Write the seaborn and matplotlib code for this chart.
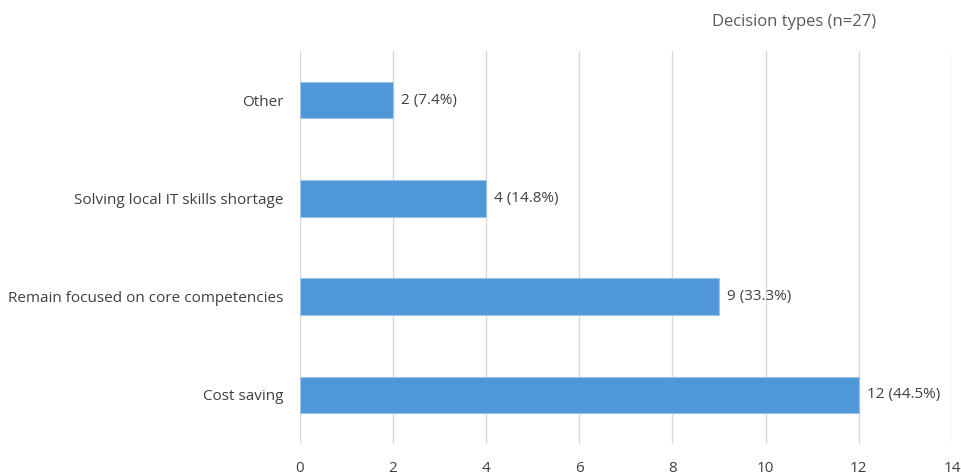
import matplotlib
matplotlib.use("Agg")
import matplotlib.pyplot as plt
import seaborn as sns
import pandas as pd

categories = ["Other", "Solving local IT skills shortage",
              "Remain focused on core competencies", "Cost saving"]
counts = [2, 4, 9, 12]
labels = ["2 (7.4%)", "4 (14.8%)", "9 (33.3%)", "12 (44.5%)"]
xticks = [0, 2, 4, 6, 8, 10, 12, 14]
title = "Decision types (n=27)"

sns.set_theme(style="white")
plt.rcParams['font.family'] = ['Open Sans', 'DejaVu Sans']

df = pd.DataFrame({"category": categories, "count": counts})

fig = plt.figure(figsize=(9.61, 4.76), dpi=100)
ax = fig.add_axes([0.312, 0.067, 0.6786, 0.826])
sns.barplot(data=df, y="category", x="count", color="#4F97D7", width=0.37,
            saturation=1, ax=ax, edgecolor="#9CC3E8", linewidth=0.8)
ax.set_xlim(0, 14)
ax.set_ylim(3.5, -0.5)
ax.set_xticks(xticks)
ax.set_xticklabels([str(t) for t in xticks])
ax.set_xlabel("")
ax.set_ylabel("")
for s in ax.spines.values():
    s.set_visible(False)
ax.grid(axis="x", color="#D9D9D9", linewidth=1)
ax.set_axisbelow(True)
ax.tick_params(axis="both", length=0, labelsize=11, colors="#404040")
ax.tick_params(axis="y", pad=12)
ax.tick_params(axis="x", pad=12)
for i, (c, l) in enumerate(zip(counts, labels)):
    ax.text(c + 0.17, i, l, va="center", ha="left", fontsize=11, color="#404040")
fig.text(0.826, 0.954, title, ha="center", va="center", fontsize=12, color="#595959")
fig.savefig("out.png", dpi=100)
